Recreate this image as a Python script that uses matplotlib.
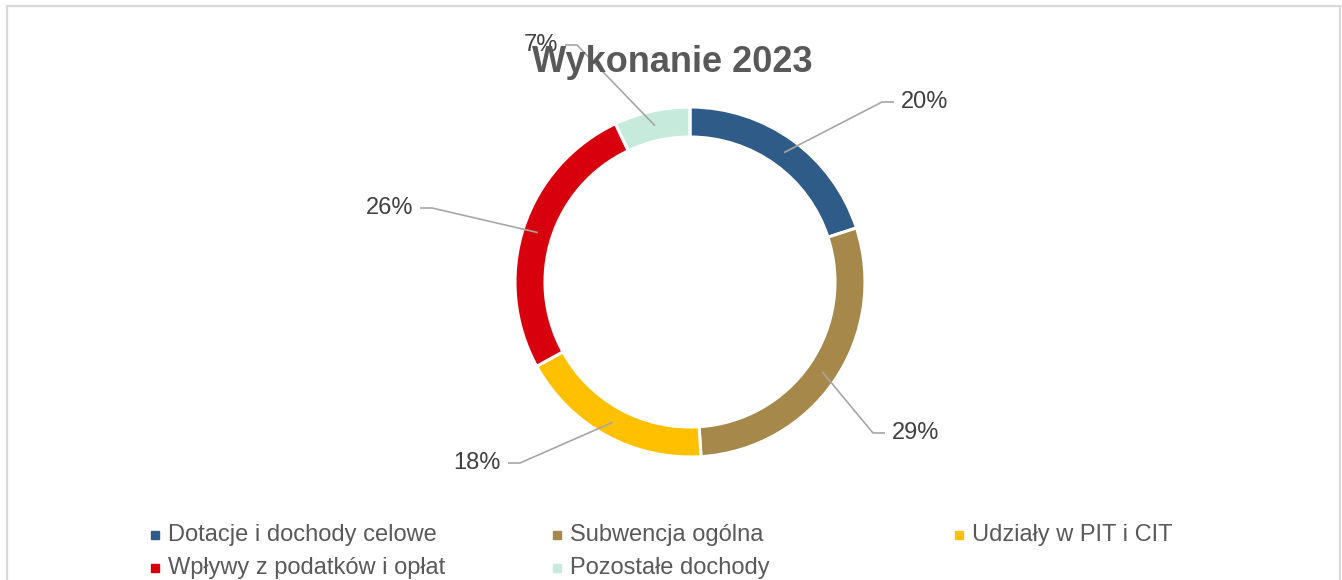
import numpy as np
import matplotlib
matplotlib.use("Agg")
import matplotlib.pyplot as plt
from matplotlib.patches import Rectangle

plt.rcParams['font.family'] = ['Liberation Sans', 'DejaVu Sans']

# data
categories = ["Dotacje i dochody celowe", "Subwencja ogólna", "Udziały w PIT i CIT",
              "Wpływy z podatków i opłat", "Pozostałe dochody"]
shares = [20, 29, 18, 26, 7]
colors = ["#2E5B88", "#A6894A", "#FFC000", "#D9000D", "#C6EBDD"]
title = "Wykonanie 2023"

#------------------------------------------------------------------------------
W, H = 1342, 580
fig = plt.figure(figsize=(W / 100, H / 100), dpi=100)
ax = fig.add_axes([0, 0, 1, 1])

def Y(y_img):
    # image rows -> data y (y axis points up)
    return H - y_img

cx, cy, R, ring = 690, Y(282), 175, 30

ax.pie(shares, colors=colors, startangle=90, counterclock=False,
       center=(cx, cy), radius=R,
       wedgeprops=dict(width=ring, edgecolor="white", linewidth=2.2))

# chart border
ax.add_patch(Rectangle((7, -20), 1333, Y(6) + 20, fill=False,
                       ec="#D9D9D9", lw=1.6, zorder=0))

# data labels with leader lines (elbow in image px, side of text)
elbows = [(882, 102), (873, 433), (520, 463), (432, 208), (577, 45)]
sides = [1, 1, -1, -1, -1]
total = sum(shares)
cum = np.cumsum(shares)
for v, c, (ex, ey), s in zip(shares, cum, elbows, sides):
    mid = np.deg2rad(90 - 360 * (c - v / 2) / total)
    r_anchor = R - ring / 2
    axx, axy = cx + r_anchor * np.cos(mid), cy + r_anchor * np.sin(mid)
    ey = Y(ey)
    hx = ex + s * 12
    ax.plot([axx, ex, hx], [axy, ey, ey], color="#A6A6A6", lw=1.2,
            solid_capstyle="butt", zorder=3)
    ax.text(hx + s * 7, ey, f"{v / total:.0%}", ha="left" if s > 0 else "right",
            va="center", fontsize=17, color="#404040", zorder=4)

ax.text(672, Y(63), title, ha="center", va="center", fontsize=26,
        fontweight="bold", color="#595959", zorder=5)

# legend, row-major in three columns
for i, (name, col) in enumerate(zip(categories, colors)):
    lx = 155 + (i % 3) * 402
    ly = Y(535 + (i // 3) * 33)
    ax.plot([lx], [ly], marker="s", ms=6, color=col, ls="none")
    ax.text(lx + 13, ly, name, ha="left", va="center", fontsize=17,
            color="#595959")

ax.set_xlim(0, W)
ax.set_ylim(0, H)
ax.set_aspect("auto")
ax.axis("off")

fig.savefig("out.png", dpi=100, facecolor="white")
